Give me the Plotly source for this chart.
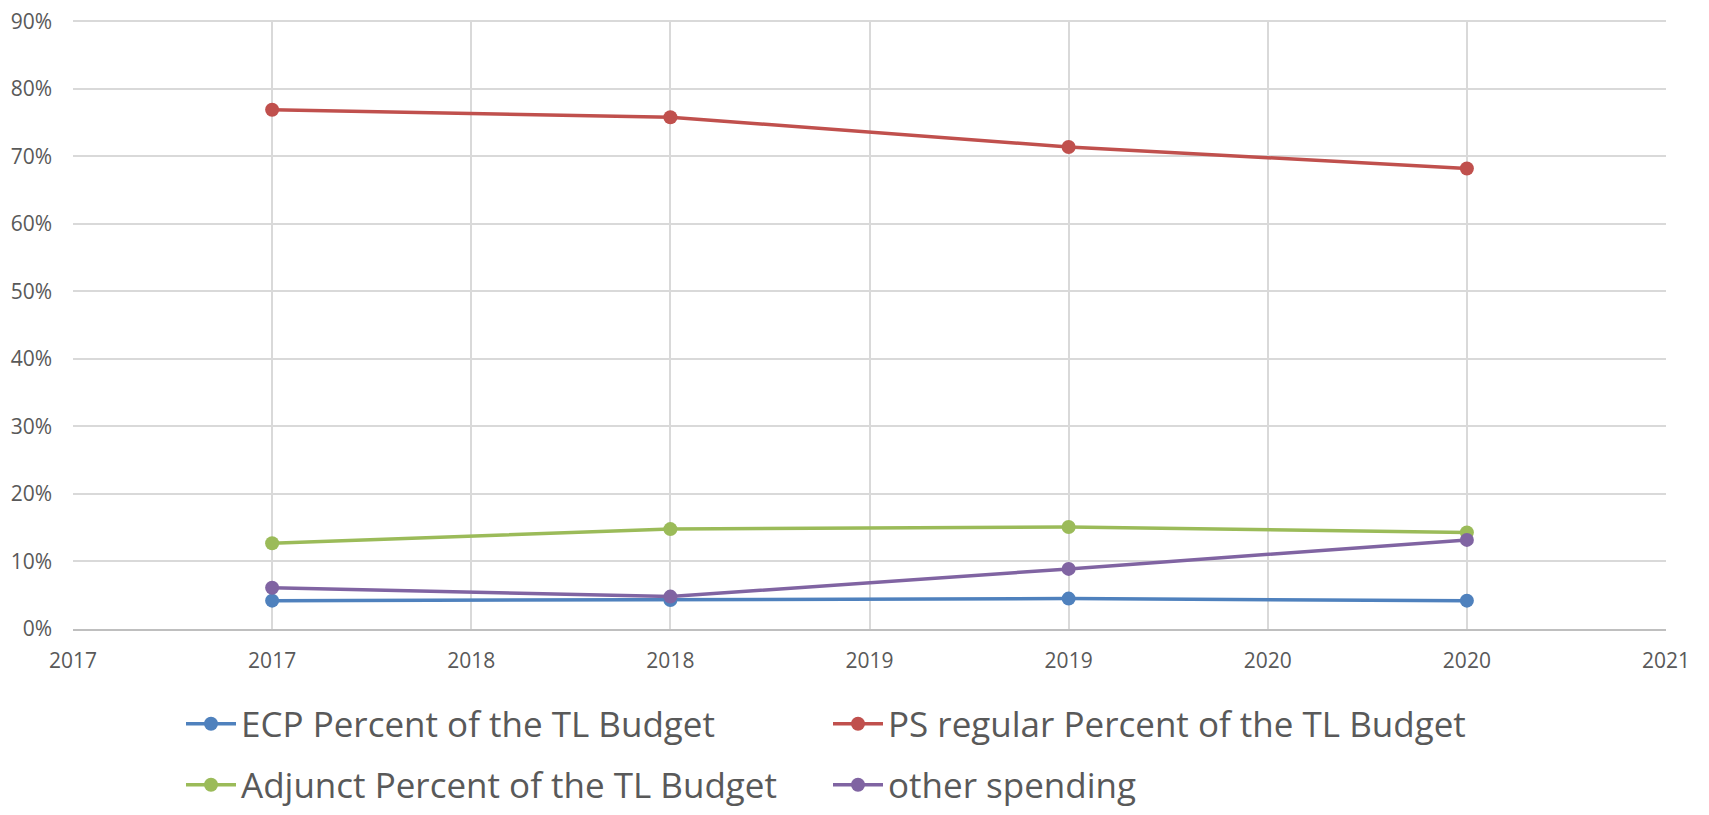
import plotly.graph_objects as go

years = [2017, 2018, 2019, 2020]
ecp = [0.042, 0.043, 0.045, 0.042]
ps_regular = [0.769, 0.758, 0.714, 0.682]
adjunct = [0.127, 0.148, 0.151, 0.143]
other = [0.061, 0.048, 0.089, 0.132]

tick_vals = [2016.5, 2017, 2017.5, 2018, 2018.5, 2019, 2019.5, 2020, 2020.5]
tick_text = ['2017', '2017', '2018', '2018', '2019', '2019', '2020', '2020', '2021']
y_ticks = [0, 0.1, 0.2, 0.3, 0.4, 0.5, 0.6, 0.7, 0.8, 0.9]

# page has an 8px body margin, so the figure is drawn 16px smaller than the window
W, H = 1693, 799

# one legend per entry so the 2x2 grid can be placed like the Excel one
series = [
    ('ECP Percent of the TL Budget', ecp, '#4f81bd', 'legend', 173, 716),
    ('PS regular Percent of the TL Budget', ps_regular, '#c0504d', 'legend2', 820, 716),
    ('Adjunct Percent of the TL Budget', adjunct, '#9bbb59', 'legend3', 173, 777),
    ('other spending', other, '#8064a2', 'legend4', 820, 777),
]

font_main = 'Open Sans, sans-serif'

fig = go.Figure()
legends = {}
for name, vals, color, leg, lx, ly in series:
    fig.add_trace(go.Scatter(
        x=years, y=vals, name=name, mode='lines+markers',
        line=dict(color=color, width=3.5),
        marker=dict(color=color, size=14),
        legend=leg,
    ))
    legends[leg] = dict(
        orientation='h', xanchor='left', yanchor='middle',
        xref='container', yref='container',
        x=lx / W, y=1 - ly / H,
        font=dict(family=font_main, size=35, color='#595959'),
        bgcolor='rgba(0,0,0,0)', itemwidth=50,
    )

fig.update_layout(
    width=W, height=H,
    margin=dict(l=65, r=35, t=12, b=178),
    plot_bgcolor='white', paper_bgcolor='white',
    font=dict(family=font_main, color='#595959'),
    showlegend=True,
    xaxis=dict(
        range=[2016.5, 2020.5], tickvals=tick_vals, ticktext=tick_text,
        showgrid=True, gridcolor='#d9d9d9', gridwidth=1.5,
        showline=True, linecolor='#bfbfbf', linewidth=1.5,
        zeroline=False, ticks='', tickfont=dict(size=21, color='#595959'),
        ticklabelstandoff=12, automargin=False,
    ),
    yaxis=dict(
        range=[0, 0.902], tickvals=y_ticks, tickformat='.0%',
        showgrid=True, gridcolor='#d9d9d9', gridwidth=1.5,
        zeroline=False, showline=False, ticks='',
        tickfont=dict(size=21, color='#595959'), ticklabelstandoff=20,
        ticklabeloverflow='allow', automargin=False,
    ),
    **legends,
)

fig.write_html('out.html')
